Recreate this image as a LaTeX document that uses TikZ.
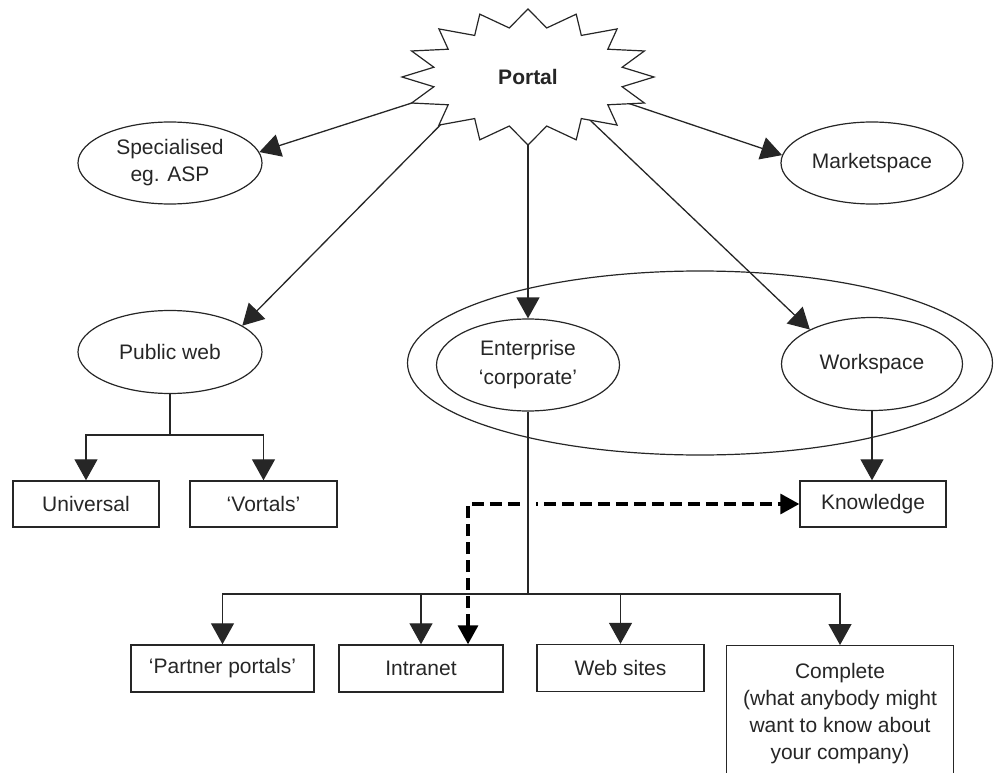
\documentclass[tikz,border=0pt]{standalone}
\usepackage{fontspec}
\setmainfont{Liberation Sans}
\usetikzlibrary{shapes.geometric,arrows.meta,calc}
\pgfdeclarelayer{bg}
\pgfdeclarelayer{burst}
\pgfsetlayers{bg,burst,main}
\definecolor{ink}{gray}{0.15}
\begin{document}
\begin{tikzpicture}[x=1pt,y=-1pt,
  every node/.style={font=\fontsize{21}{27}\selectfont, text=ink},
  ell/.style={ellipse, draw=ink, line width=1.2pt, inner sep=0pt, align=center},
  box/.style={rectangle, draw=ink, line width=1.4pt, minimum height=46pt, inner sep=0pt, align=center},
  conn/.style={draw=ink, line width=1.3pt},
  arr/.style={conn, -{Triangle[length=21pt,width=23pt]}},
  dasharr/.style={draw=black, line width=3.4pt, dash pattern=on 12pt off 6pt,
    {Triangle[length=19pt,width=20pt]}-{Triangle[length=19pt,width=20pt]}}
]
\path[use as bounding box] (0,0) rectangle (994,773);

% nodes
\node[ell, draw=none, minimum width=190pt, minimum height=96pt,
      font=\bfseries\fontsize{21}{27}\selectfont] (portal) at (528,77) {Portal};
\node[ell, minimum width=184pt, minimum height=82pt] (spec) at (170,163) {Specialised\\eg. ASP};
\node[ell, minimum width=184pt, minimum height=83pt] (pubweb) at (170,352) {Public web};
\node[ell, minimum width=182pt, minimum height=82pt] (market) at (872,163) {Marketspace};
\node[ell, minimum width=585pt, minimum height=184pt] (group) at (700,363) {};
\node[ell, minimum width=183pt, minimum height=92pt, font=\fontsize{21}{29}\selectfont] (ent) at (528,365) {Enterprise\\‘corporate’};
\node[ell, minimum width=181pt, minimum height=93pt] (ws) at (872,364) {Workspace};

\node[box, minimum width=146pt] (univ) at (86,504) {Universal};
\node[box, minimum width=147pt] (vort) at (263.5,504) {‘Vortals’};
\node[box, minimum width=146pt] (know) at (873,504) {Knowledge};
\node[box, minimum width=183pt, minimum height=47pt] (partner) at (222.5,668.5) {‘Partner portals’};
\node[box, minimum width=164pt, minimum height=47pt] (intra) at (421,668.5) {Intranet};
\node[box, minimum width=167pt, minimum height=47pt] (web) at (620.5,668) {Web sites};
\node[box, minimum width=227pt, minimum height=136pt, anchor=north] (complete) at (840,645)
  {Complete\\(what anybody might\\want to know about\\your company)};

% connectors from the portal (start hidden under the burst)
\begin{pgfonlayer}{bg}
\draw[arr] (portal.191) -- (spec.7);
\draw[arr] (portal.204) -- (pubweb.20);
\draw[arr] (portal.south) -- (ent.north);
\draw[arr] (portal.326) -- (ws.151);
\draw[arr] (portal.346) -- (market.175);
\end{pgfonlayer}

% burst outline
\begin{pgfonlayer}{burst}
\begin{scope}[shift={(portal.center)}]
\draw[ink, line width=1.2pt, fill=white, line join=miter]
  plot[variable=\t, samples at={0,...,31}]
  ({(mod(\t,2)==1 ? 96 : 126)*cos(90+\t*11.25)}, {(mod(\t,2)==1 ? 50 : 68)*sin(90+\t*11.25)}) -- cycle;
\end{scope}
\end{pgfonlayer}

% public web tree
\coordinate (pb) at (170,435);
\draw[conn] (pubweb.south) -- (pb);
\draw[arr] (pb) -| (univ.north);
\draw[arr] (pb) -| (vort.north);

% workspace to knowledge
\draw[arr] (ws.south) -- (ws.south |- know.north);

% dashed link
\draw[dasharr] ($(intra.north)+(47,0)$) |- (know.west);

% enterprise tree (the dashed line is broken where it crosses)
\coordinate (eb) at (528,594);
\coordinate (cross) at (eb |- know.west);
\fill[white] ($(cross)+(-8,-4)$) rectangle ($(cross)+(8,4)$);
\draw[conn] (ent.south) -- (eb);
\draw[arr] (eb) -| (partner.north);
\draw[arr] (eb) -| (intra.north);
\draw[arr] (eb) -| (web.north);
\draw[arr] (eb) -| (complete.north);
\end{tikzpicture}
\end{document}
